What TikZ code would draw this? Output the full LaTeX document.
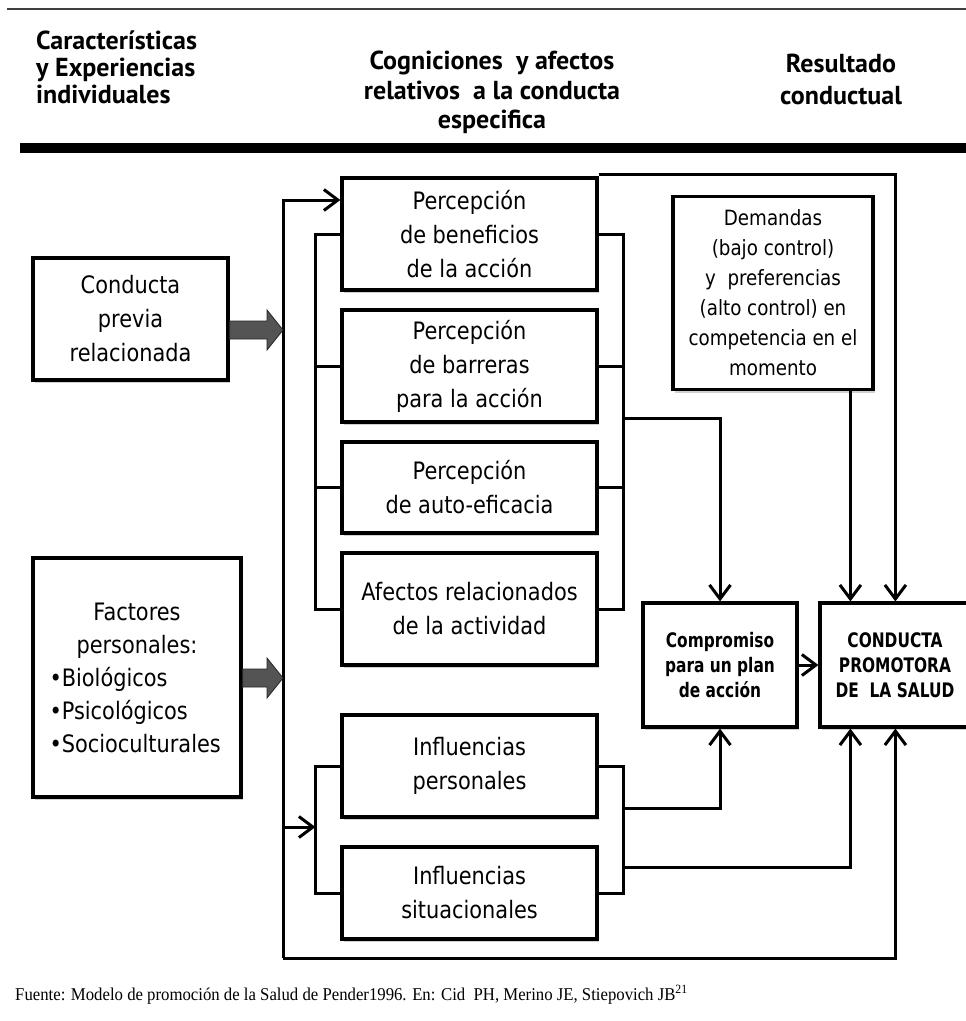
\documentclass[tikz,border=0pt]{standalone}
\usepackage{fontspec}
\usetikzlibrary{arrows.meta,calc,shadows}
\newfontfamily\hdrf{PT Sans}
\newfontfamily\boxf[FakeStretch=0.87]{DejaVu Sans}
\newfontfamily\boxbf[FakeStretch=0.77]{DejaVu Sans}
\newfontfamily\footf[FakeStretch=0.93]{Liberation Serif}
\begin{document}
\begin{tikzpicture}[x=1pt,y=-1pt,
  hdr/.style={inner sep=0pt, font=\hdrf\bfseries\fontsize{26}{27}\selectfont},
  box/.style={draw, fill=white, line width=3.2pt, rectangle, inner sep=0pt, align=center,
    font=\boxf\fontsize{24}{34}\selectfont,
    drop shadow={shadow xshift=2pt, shadow yshift=-3pt, opacity=0.18, fill=black}},
  conn/.style={line width=3pt},
  arr/.style={conn, -{Straight Barb[length=14pt,width=21pt]}},
  fat/.style={fill=black!67, draw=black!85, line width=0.8pt, line join=miter}
]
\fill[white] (0,0) rectangle (966,1021);
\useasboundingbox (0,0) rectangle (966,1021);

% header
\draw[black!75, line width=1.5pt] (7,9) -- (966,9);
\node[hdr, anchor=north west, align=left] (h1) at (36,31) {Características\\y Experiencias\\individuales};
\node[hdr, anchor=north, align=center, font=\hdrf\bfseries\fontsize{26}{29.5}\selectfont] (h2) at (492,51) {Cogniciones\ \ y afectos\\relativos\ \ a la conducta\\especifica};
\node[hdr, anchor=north, align=center, font=\hdrf\bfseries\fontsize{26}{32}\selectfont] (h3) at (841,54) {Resultado\\conductual};
\draw[line width=10pt] (20,148) -- (966,148);

% boxes
\node[box, minimum width=255pt, minimum height=112pt] (ben) at (469.5,234) {Percepción\\de beneficios\\de la acción};
\node[box, minimum width=255pt, minimum height=112pt] (bar) at (469.5,366) {Percepción\\de barreras\\para la acción};
\node[box, minimum width=255pt, minimum height=91pt] (aut) at (469.5,487.5) {Percepción\\de auto-eficacia};
\node[box, minimum width=255pt, minimum height=112pt] (afe) at (469.5,609) {Afectos relacionados\\de la actividad};
\node[box, minimum width=255pt, minimum height=102pt] (ipe) at (469.5,766) {Influencias\\personales};
\node[box, minimum width=255pt, minimum height=92pt] (isi) at (469.5,893) {Influencias\\situacionales};
\node[box, minimum width=195pt, minimum height=122pt] (cpr) at (130.5,319) {Conducta\\previa\\relacionada};
\node[box, minimum width=208pt, minimum height=239pt] (fac) at (137,677.5)
  {\parbox{175pt}{\fontsize{24}{33}\selectfont\centering Factores\\personales:\par\raggedright •Biológicos\\•Psicológicos\\•Socioculturales}};
\node[box, minimum width=200pt, minimum height=193pt, font=\boxf\fontsize{21}{30}\selectfont] (dem) at (773,293)
  {Demandas\\(bajo control)\\y\ \ preferencias\\(alto control) en\\competencia en el\\momento};
\node[box, minimum width=154pt, minimum height=124pt, font=\boxbf\bfseries\fontsize{20}{25}\selectfont] (cmp) at (720,665)
  {Compromiso\\para un plan\\de acción};
\node[box, minimum width=150pt, minimum height=124pt, font=\boxbf\bfseries\fontsize{20}{25}\selectfont] (cpb) at (895,665)
  {CONDUCTA\\PROMOTORA\\DE\ \ LA SALUD};

% coordinates
\coordinate (topA) at (283,200);
\coordinate (botA) at (283,958);
\coordinate (midA) at (283,827);
\coordinate (cpbN1) at ($(cpb.north west)+(32,0)$);
\coordinate (cpbN2) at ($(cpb.north west)+(77,0)$);
\coordinate (cpbS1) at ($(cpb.south west)+(32,0)$);
\coordinate (cpbS2) at ($(cpb.south west)+(77,0)$);
\coordinate (ibl) at ($(ipe.west)+(-25,0)$);
\coordinate (ibr) at ($(ipe.east)+(25,0)$);
\coordinate (t1) at (283,330);
\coordinate (t2) at (283,678);

% outer loop
\draw[arr] (botA) -- (topA) -- (topA -| ben.west);
\draw[arr] (botA) -| (cpbS2);
\draw[arr] ($(ben.north east)+(0,-2)$) -| (cpbN2);
\draw[arr] (midA) -- (midA -| ibl);

% cognitive brackets
\draw[conn] (ben.west) -- ++(-25,0) |- (afe.west);
\draw[conn] (bar.west) -- ++(-25,0);
\draw[conn] (aut.west) -- ++(-25,0);
\draw[conn] (ben.east) -- ++(25,0) |- (afe.east);
\draw[conn] (bar.east) -- ++(25,0);
\draw[conn] (aut.east) -- ++(25,0);
\draw[arr] ($(bar.south east)+(25,-5)$) -| (cmp.north);

% influences brackets
\draw[conn] (ipe.west) -- (ibl) |- (isi.west);
\draw[conn] (ipe.east) -- (ibr) |- (isi.east);
\draw[arr] ($(ibr)+(0,42)$) -| (cmp.south);
\draw[arr] ($(ibr)+(0,101)$) -| (cpbS1);

% right side
\draw[arr] (dem.south -| cpbN1) -- (cpbN1);
\draw[arr] (cmp.east) -- (cpb.west);

% fat arrows
\draw[fat] ($(cpr.east |- t1)+(0,-9)$) -- ($(t1)+(-16,-9)$) -- ($(t1)+(-16,-20)$) -- (t1)
  -- ($(t1)+(-16,20)$) -- ($(t1)+(-16,9)$) -- ($(cpr.east |- t1)+(0,9)$) -- cycle;
\draw[fat] ($(fac.east |- t2)+(0,-9)$) -- ($(t2)+(-16,-9)$) -- ($(t2)+(-16,-20)$) -- (t2)
  -- ($(t2)+(-16,20)$) -- ($(t2)+(-16,9)$) -- ($(fac.east |- t2)+(0,9)$) -- cycle;

% source
\node[anchor=base west, inner sep=0pt, font=\footf\fontsize{18}{20}\selectfont] (src) at (15,1000)
  {Fuente: Modelo de promoción de la Salud de Pender1996. En: Cid\ \ PH, Merino JE, Stiepovich JB\textsuperscript{21}};
\end{tikzpicture}
\end{document}
